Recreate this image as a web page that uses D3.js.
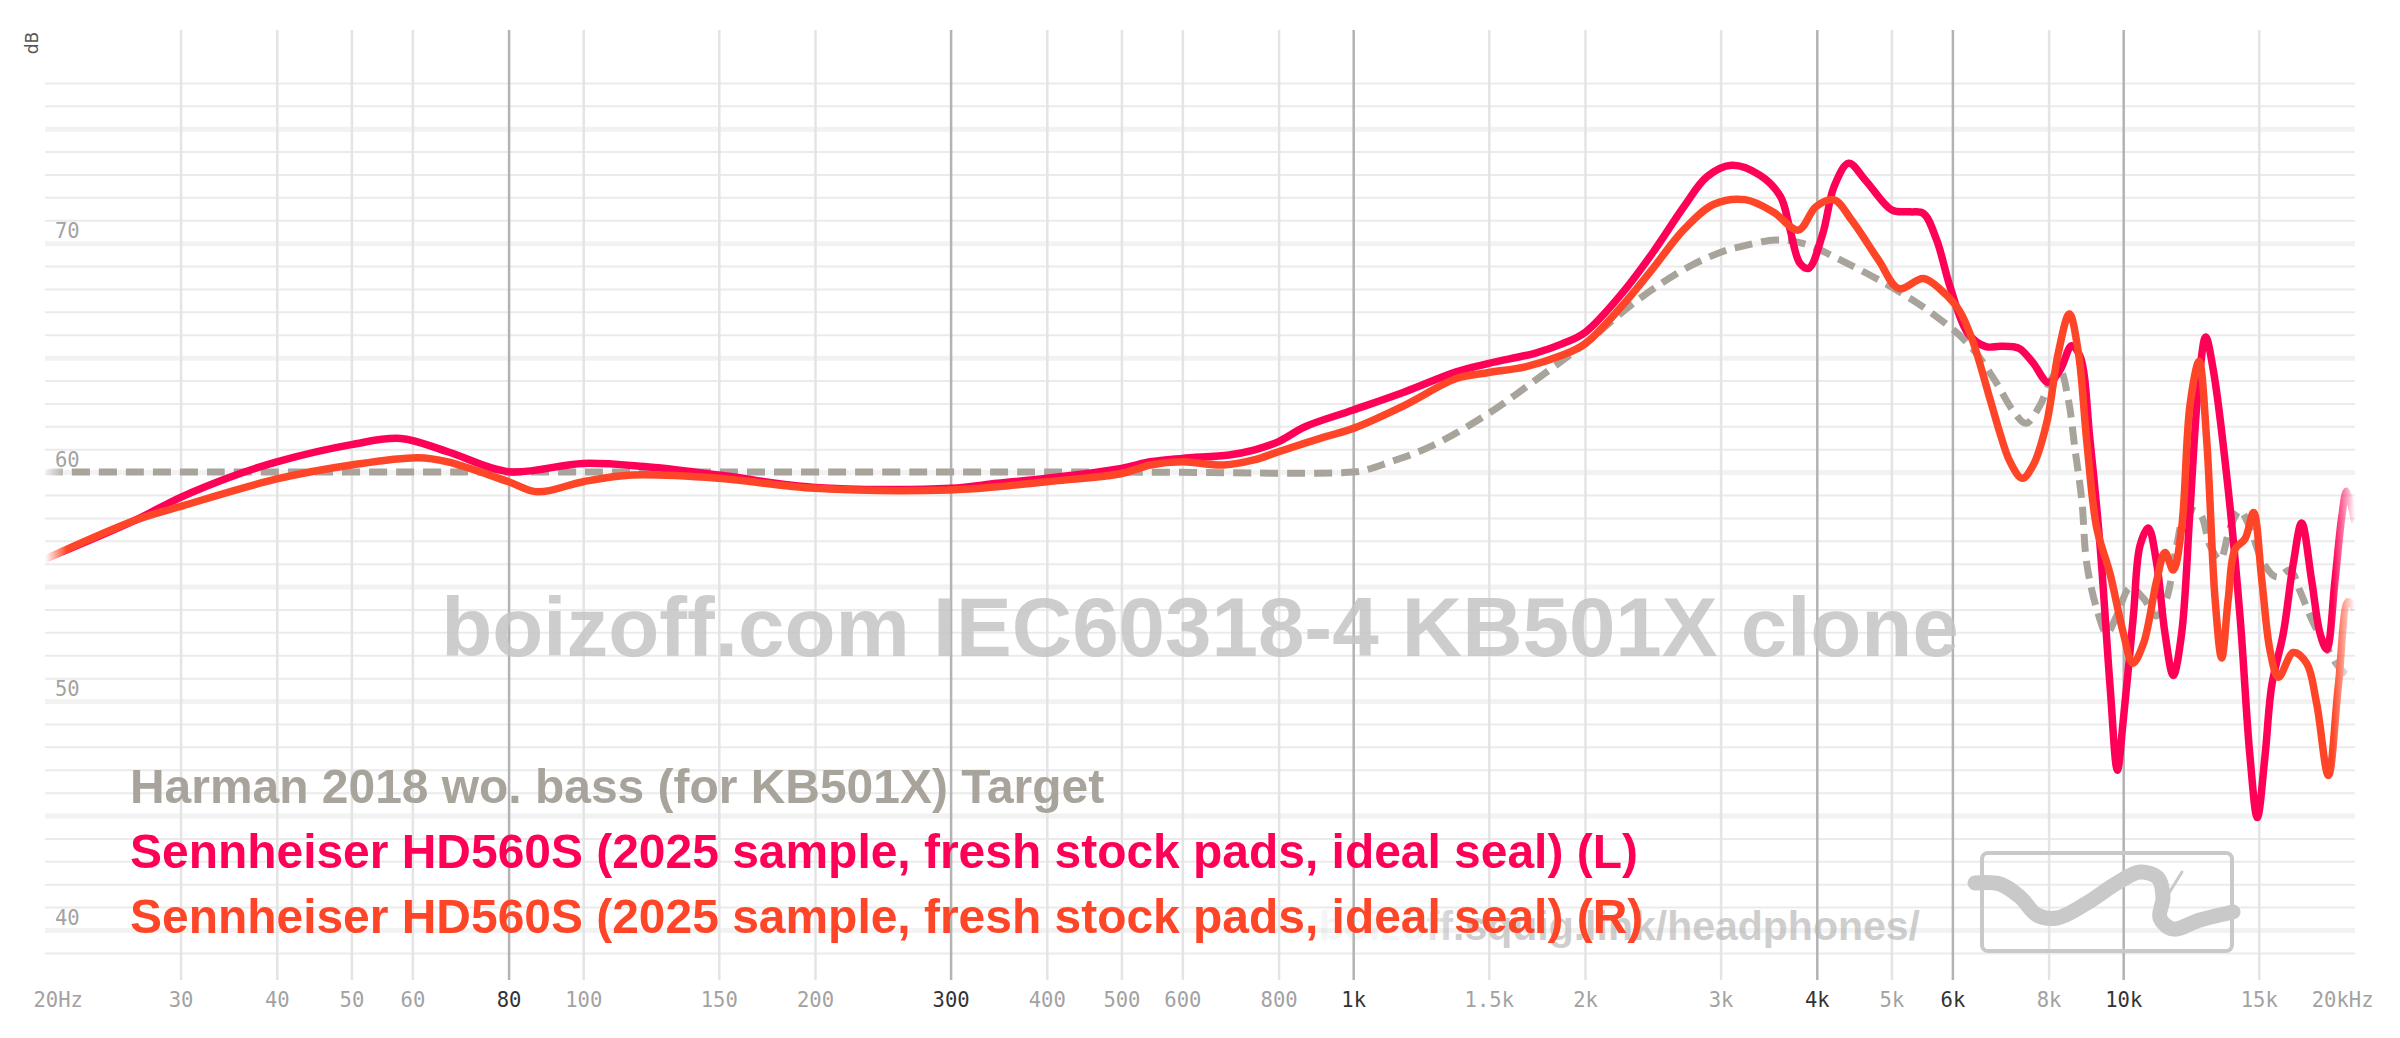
<!DOCTYPE html>
<html><head><meta charset="utf-8">
<script src="https://cdn.jsdelivr.net/npm/d3@7"></script>
<style>
html,body{margin:0;padding:0;background:#fff;overflow:hidden}
svg{display:block}
</style>
</head><body>
<svg id="chart" width="2400" height="1038"></svg>
<script>
// ---------- data ----------
const xTickValues = [20,30,40,50,60,80,100,150,200,300,400,500,600,800,1000,1500,2000,3000,4000,5000,6000,8000,10000,15000,20000];
const xTickLabels = ["20Hz","30","40","50","60","80","100","150","200","300","400","500","600","800","1k","1.5k","2k","3k","4k","5k","6k","8k","10k","15k","20kHz"];
const xTickStrong = [80,300,1000,4000,6000,10000];
const yLabelValues = [40,50,60,70];
const yGridValues = d3.range(39,78);

const seriesNames = [
  "Harman 2018 wo. bass (for KB501X) Target",
  "Sennheiser HD560S (2025 sample, fresh stock pads, ideal seal) (L)",
  "Sennheiser HD560S (2025 sample, fresh stock pads, ideal seal) (R)"
];
const seriesColors = ["#a8a49c","#ff0058","#ff4527"];

const targetFreq = [20,100,500,1000,1040,1103,1259,1500,1725,2000,2342,2728,3057,3178,3539,3835,4381,5077,5649,6286,6809,7184,7475,7781,8102,8278,8488,8660,8835,8966,9239,9518,9807,10205,10622,11052,11386,11732,12088,12580,12962,13357,13763,14179,14609,15209,15830,16474,16967,17654,18376,19123,20000];
const targetDb   = [60,60,60,60,60.1,60.38,61.11,62.57,64.02,65.62,67.52,68.97,69.70,69.84,70.14,69.99,69.12,67.95,66.93,65.62,64.02,62.71,62.13,62.86,64.16,64.45,63.15,60.96,58.78,56.02,54.03,52.96,53.72,54.95,54.49,53.72,54.49,56.79,58.32,58.17,56.79,56.18,57.56,58.32,57.56,56.02,55.41,55.72,54.80,53.42,52.34,51.42,50.9];

const leftFreq = [20,26.2,30,34.9,40,50,57.9,66.7,80,100,120,150,200,300,345,400,500,545,600,690,743,800,866,1000,1168,1361,1500,1725,1867,2000,2233,2451,2689,2880,3100,3373,3589,3685,3803,3903,4073,4212,4400,4623,5010,5285,5501,5724,5958,6286,6630,6919,7184,7344,7642,7993,8278,8571,8789,9055,9331,9614,9827,10000,10308,10516,10781,11052,11330,11615,11909,12210,12518,12797,13093,13627,14179,14609,14932,15280,15590,16141,16632,17051,17569,18012,18376,18838,19219,19509,20000];
const leftDb   = [56.2,57.9,58.9,59.8,60.45,61.2,61.47,60.89,60.02,60.38,60.24,59.87,59.33,59.29,59.51,59.73,60.16,60.45,60.60,60.75,60.96,61.33,61.98,62.71,63.51,64.38,64.75,65.2,65.6,66.1,67.8,69.6,71.6,72.9,73.4,72.97,72.03,70.72,69.12,68.9,70.43,72.47,73.49,72.76,71.44,71.37,71.30,70.14,68.10,66.06,65.48,65.5,65.48,65.38,64.76,63.91,64.45,65.52,65.06,61.38,56.79,50.66,46.98,49.13,53.72,56.79,57.56,56.02,52.96,51.12,52.96,58.32,63.68,65.90,64.45,59.85,53.72,47.59,44.91,47.59,50.66,52.96,56.02,57.78,55.26,52.96,52.26,55.26,58.01,59.16,57.8];

const rightFreq = [20,26.2,30,40,50,61,66.7,80,87.2,100,115.6,150,200,300,345,400,500,545,600,679,743,800,921,1000,1168,1361,1500,1673,1867,2000,2233,2451,2689,2941,3228,3516,3784,3990,4212,4441,4812,5113,5501,5800,6120,6369,6720,6919,7127,7394,7642,7955,8237,8513,8746,8966,9239,9614,10005,10289,10622,11052,11330,11615,11909,12210,12545,12836,13159,13424,13693,13970,14396,14766,15137,15517,15907,16632,17307,17833,18467,19028,19604,20000];
const rightDb   = [56.2,57.9,58.5,59.7,60.31,60.63,60.45,59.58,59.14,59.58,59.87,59.73,59.29,59.22,59.36,59.58,59.94,60.31,60.45,60.31,60.53,60.89,61.55,61.91,62.93,64.09,64.35,64.6,65.1,65.6,67.25,68.9,70.6,71.7,71.9,71.35,70.57,71.59,71.89,71.0,69.26,68.02,68.46,67.95,67.08,65.77,63.15,61.69,60.46,59.73,60.31,62.15,65.22,66.91,65.22,61.38,57.56,55.56,52.96,51.65,52.50,55.26,56.49,55.72,57.56,62.92,64.84,61.38,54.49,51.88,54.49,56.63,57.09,58.24,55.26,52.19,51.04,52.12,51.65,49.89,46.75,50.66,54.34,54.0];

const watermarkText = "boizoff.com IEC60318-4 KB501X clone";
const siteText = "boizoff.squig.link/headphones/";

// ---------- drawing ----------
const svg = d3.select("#chart");
const W = 2400, H = 1038;
const x = d3.scaleLog().domain([20,20000]).range([45,2355]);
const y = d3.scaleLinear().domain([40,78]).range([930,60]);

svg.append("rect").attr("width",W).attr("height",H).attr("fill","#fff");

const defs = svg.append("defs");
const span = x.range()[1]-x.range()[0];
const grad = defs.append("linearGradient").attr("id","fadeGrad")
  .attr("gradientUnits","userSpaceOnUse").attr("x1",x.range()[0]).attr("x2",x.range()[1]).attr("y1",0).attr("y2",0);
[[0,"#000"],[22/span,"#fff"],[1-22/span,"#fff"],[1,"#000"]].forEach(s=>grad.append("stop").attr("offset",s[0]).attr("stop-color",s[1]));
defs.append("mask").attr("id","fadeMask").attr("maskUnits","userSpaceOnUse")
  .attr("x",0).attr("y",0).attr("width",W).attr("height",H)
  .append("rect").attr("x",x.range()[0]).attr("y",0).attr("width",span).attr("height",H).attr("fill","url(#fadeGrad)");
const siteGrad = defs.append("linearGradient").attr("id","siteGrad")
  .attr("gradientUnits","userSpaceOnUse").attr("x1",1300).attr("x2",1455).attr("y1",0).attr("y2",0);
[[0,0.12],[0.75,0.12],[1,0.62]].forEach(s=>siteGrad.append("stop").attr("offset",s[0]).attr("stop-color","#b0b0b0").attr("stop-opacity",s[1]));

// horizontal grid
const yAxis = d3.axisLeft(y).tickValues(yGridValues).tickSize(-(span)).tickFormat("");
const gy = svg.append("g").attr("transform",`translate(${x.range()[0]},0)`).call(yAxis);
gy.select(".domain").remove();
gy.selectAll(".tick line")
  .attr("stroke", d => d%5===0 ? "#f2f2f2" : "#ebebeb")
  .attr("stroke-width", d => d%5===0 ? 5 : 2);

// vertical grid + x labels
const xAxis = d3.axisBottom(x).tickValues(xTickValues).tickSize(950).tickFormat((d,i)=>xTickLabels[i]);
const gx = svg.append("g").attr("transform","translate(0,30)").call(xAxis);
gx.select(".domain").remove();
gx.selectAll(".tick line")
  .attr("stroke", d => xTickStrong.includes(d) ? "#b3b3b3" : "#e4e4e4")
  .attr("stroke-width", 2.5)
  .attr("display", d => (d===20||d===20000) ? "none" : null);
gx.selectAll(".tick text")
  .attr("y", 977).attr("dy", 0)
  .attr("font-family","'DejaVu Sans Mono', monospace")
  .attr("font-size", 20.5)
  .attr("fill", d => xTickStrong.includes(d) ? "#333" : "#a2a2a2")
  .attr("text-anchor", d => d===20 ? "start" : d===20000 ? "end" : "middle")
  .attr("dx", d => d===20 ? -12 : d===20000 ? 18 : 0);

// y labels
svg.append("g").selectAll("text").data(yLabelValues).join("text")
  .attr("x", 55).attr("y", d => y(d)-5)
  .attr("font-family","'DejaVu Sans Mono', monospace").attr("font-size",20.5)
  .attr("fill","#a2a2a2").text(d=>d);

svg.append("text").attr("transform","translate(38,43) rotate(-90)")
  .attr("text-anchor","middle").attr("font-family","'DejaVu Sans', sans-serif")
  .attr("font-size",17).attr("fill","#555").text("dB");

// big watermark
const wm = svg.append("text").attr("x",1200).attr("y",656).attr("text-anchor","middle")
  .attr("font-family","'Liberation Sans', Arial, sans-serif").attr("font-weight","bold")
  .attr("font-size",87).attr("fill","#c4c4c4").attr("fill-opacity",0.85).text(watermarkText);
{ const w = wm.node().getComputedTextLength(); wm.attr("font-size", 87*1518/w); }

// curves
const line = d3.line().x(d=>x(d.f)).y(d=>y(d.v)).curve(d3.curveCatmullRom.alpha(0.5));
const toPts = (fs,vs)=>fs.map((f,i)=>({f, v:vs[i]}));
const cg = svg.append("g").attr("mask","url(#fadeMask)");
cg.append("path").datum(toPts(targetFreq,targetDb)).attr("d",line)
  .attr("fill","none").attr("stroke",seriesColors[0]).attr("stroke-width",7)
  .attr("stroke-dasharray","18 9");
cg.append("path").datum(toPts(leftFreq,leftDb)).attr("d",line)
  .attr("fill","none").attr("stroke",seriesColors[1]).attr("stroke-width",7.5).attr("stroke-linejoin","round");
cg.append("path").datum(toPts(rightFreq,rightDb)).attr("d",line)
  .attr("fill","none").attr("stroke",seriesColors[2]).attr("stroke-width",7.5).attr("stroke-linejoin","round");

// site watermark (under the legend)
svg.append("text").attr("x",1920).attr("y",940).attr("text-anchor","end")
  .attr("font-family","'Liberation Sans', Arial, sans-serif").attr("font-weight","bold")
  .attr("font-size",41).attr("fill","url(#siteGrad)").text(siteText);

// legend (condensed bold)
const lg = svg.append("g");
const lt = lg.selectAll("text").data(seriesNames).join("text")
  .attr("x",0).attr("y",0)
  .attr("font-family","'Liberation Sans', Arial, sans-serif")
  .attr("font-weight","bold").attr("font-size",49)
  .attr("fill",(d,i)=>seriesColors[i]).text(d=>d);
{ const w = lt.nodes()[1].getComputedTextLength(); const sx = 1508/w;
  lt.attr("transform",(d,i)=>`translate(130,${803+i*65}) scale(${sx},1)`); }

// logo
const logo = svg.append("g").attr("fill","none").attr("stroke","#c9c9c9").attr("stroke-linecap","round").attr("stroke-linejoin","round");
logo.append("rect").attr("x",1982).attr("y",853).attr("width",250).attr("height",98).attr("rx",6).attr("stroke-width",4);
const squig = [[1975,883],[2000,884],[2020,897],[2037,915],[2057,918],[2087,903],[2117,883],[2140,872],[2158,878],[2163,897],[2160,918],[2173,929],[2200,920],[2233,912]];
logo.append("path").attr("d", d3.line().curve(d3.curveCatmullRom)(squig)).attr("stroke-width",15);
logo.append("path").attr("d","M2169,893 L2182,872").attr("stroke-width",3);
</script>
</body></html>
